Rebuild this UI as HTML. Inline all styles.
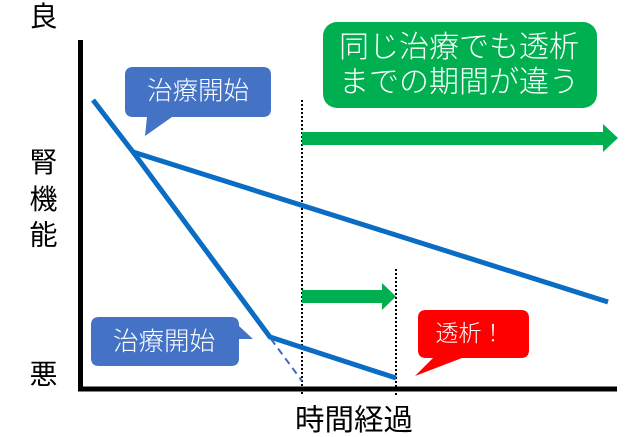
<!DOCTYPE html>
<html><head><meta charset="utf-8"><style>
html,body{margin:0;padding:0;background:#fff;}
svg{display:block;}
text{font-family:"Liberation Sans","Noto Sans CJK JP",sans-serif;}
</style></head><body>
<svg width="640" height="437" viewBox="0 0 640 437" xmlns="http://www.w3.org/2000/svg">
<rect width="640" height="437" fill="#fff"/>
<!-- axes -->
<line x1="80.5" y1="40" x2="80.5" y2="391" stroke="#000" stroke-width="5"/>
<line x1="78" y1="389" x2="617" y2="389" stroke="#000" stroke-width="5"/>
<!-- dotted verticals -->
<line x1="302" y1="100" x2="302" y2="395" stroke="#000" stroke-width="2" stroke-dasharray="2 2"/>
<line x1="396" y1="269" x2="396" y2="395" stroke="#000" stroke-width="2" stroke-dasharray="2 2"/>
<!-- blue lines -->
<polyline points="93,100 133,152 270,337 396,378" fill="none" stroke="#0A6CC2" stroke-width="5" stroke-linejoin="miter"/>
<line x1="133" y1="152" x2="608" y2="302" stroke="#0A6CC2" stroke-width="5"/>
<line x1="271" y1="339" x2="302" y2="381" stroke="#3F68C4" stroke-width="2" stroke-dasharray="7 5"/>
<!-- green arrows -->
<polygon points="302,132 603,132 603,124 618,138 603,152 603,145 302,145" fill="#00B050"/>
<polygon points="302,290 382,290 382,283 396,296.5 382,310 382,303 302,303" fill="#00B050"/>
<!-- green box -->
<rect x="323" y="22" width="274" height="86" rx="14" fill="#00B050"/>
<text x="459" y="57" font-size="30" fill="#fff" text-anchor="middle" font-weight="300">同じ治療でも透析</text>
<text x="459" y="92" font-size="30" fill="#fff" text-anchor="middle" font-weight="300">までの期間が違う</text>
<!-- callout 1 -->
<path d="M133,67 H263 Q271,67 271,75 V109 Q271,117 263,117 H172 L145,136 L147,117 H133 Q125,117 125,109 V75 Q125,67 133,67 Z" fill="#4472C4"/>
<text x="198" y="99.5" font-size="25.5" fill="#fff" text-anchor="middle" font-weight="300">治療開始</text>
<!-- callout 2 -->
<path d="M99,317 H231 Q239,317 239,325 V326 L253,339 L239,339 V358 Q239,366 231,366 H99 Q91,366 91,358 V325 Q91,317 99,317 Z" fill="#4472C4"/>
<text x="164" y="350" font-size="25.5" fill="#fff" text-anchor="middle" font-weight="300">治療開始</text>
<!-- red callout -->
<path d="M426,310 H521 Q529,310 529,318 V350 Q529,358 521,358 H462 L415,376 L433,358 H426 Q418,358 418,350 V318 Q418,310 426,310 Z" fill="#FF0000"/>
<text x="470" y="341" font-size="23" fill="#fff" text-anchor="middle" font-weight="300">透析！</text>
<!-- axis labels -->
<text x="43.5" y="26" font-size="28" fill="#000" text-anchor="middle">良</text>
<text x="43.5" y="172" font-size="28" fill="#000" text-anchor="middle">腎</text>
<text x="43.5" y="209" font-size="28" fill="#000" text-anchor="middle">機</text>
<text x="43.5" y="244.5" font-size="28" fill="#000" text-anchor="middle">能</text>
<text x="43.5" y="384" font-size="28" fill="#000" text-anchor="middle">悪</text>
<text x="354" y="430" font-size="29.5" fill="#000" text-anchor="middle">時間経過</text>
</svg>
</body></html>
